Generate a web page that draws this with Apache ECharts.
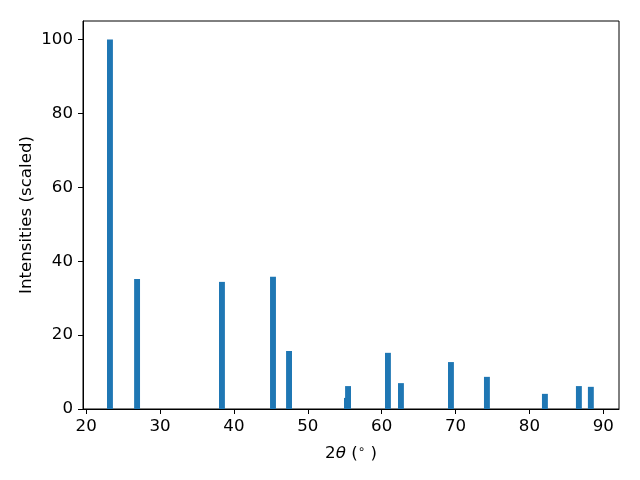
<!DOCTYPE html>
<html><head><meta charset="utf-8">
<script src="https://cdn.jsdelivr.net/npm/echarts@6/dist/echarts.min.js"></script>
<style>html,body{margin:0;padding:0;background:#fff}#c{width:640px;height:480px}</style>
</head><body><div id="c"></div>
<script>
const twoTheta = [23.22, 26.89, 38.38, 45.29, 47.46, 55.30, 55.45, 60.85, 62.61, 69.38, 74.25, 82.10, 86.70, 88.32];
const intensity = [100.0, 35.2, 34.4, 35.8, 15.7, 3.0, 6.2, 15.2, 7.0, 12.7, 8.7, 4.1, 6.2, 6.0];
const xTicks = [20, 30, 40, 50, 60, 70, 80, 90];
const yTicks = [0, 20, 40, 60, 80, 100];
const barWidthDeg = 0.8;

const data = twoTheta.map((x, i) => [x, intensity[i]]);
const chart = echarts.init(document.getElementById('c'), null, {renderer: 'canvas'});
const font = 'DejaVu Sans';
const fs = 16.67;
chart.setOption({
  animation: false,
  grid: {left: 83, right: 21, top: 21, bottom: 71, show: true, borderColor: '#000', borderWidth: 1, backgroundColor: 'transparent'},
  xAxis: {
    type: 'value', min: 19.57, max: 92.13,
    axisLine: {show: true, onZero: false, lineStyle: {color: '#000', width: 1}},
    axisTick: {show: true, length: 5, lineStyle: {color: '#000'}, customValues: xTicks},
    axisLabel: {color: '#000', fontFamily: font, fontSize: fs, margin: 9, customValues: xTicks},
    splitLine: {show: false},
    name: '{n|2}{i|θ}{n| (}{s|∘}{n| )}',
    nameLocation: 'middle', nameGap: 35, nameMoveOverlap: false,
    nameTextStyle: {
      rich: {
        n: {fontFamily: font, fontSize: fs, color: '#000'},
        i: {fontFamily: font, fontSize: fs, fontStyle: 'italic', color: '#000'},
        s: {fontFamily: font, fontSize: 12, color: '#000', verticalAlign: 'top', padding: [0, 0, 7, 0]}
      }
    }
  },
  yAxis: {
    type: 'value', min: 0, max: 105,
    axisLine: {show: true, onZero: false, lineStyle: {color: '#000', width: 1}},
    axisTick: {show: true, length: 5, lineStyle: {color: '#000'}, customValues: yTicks},
    axisLabel: {color: '#000', fontFamily: font, fontSize: fs, margin: 10, customValues: yTicks},
    splitLine: {show: false},
    name: 'Intensities (scaled)', nameLocation: 'middle', nameGap: 48, nameMoveOverlap: false,
    nameTextStyle: {fontFamily: font, fontSize: fs, color: '#000'}
  },
  series: [{
    type: 'custom',
    data: data,
    renderItem: function (params, api) {
      const x = api.value(0), y = api.value(1);
      const p0 = api.coord([x - barWidthDeg / 2, 0]);
      const p1 = api.coord([x + barWidthDeg / 2, y]);
      return {type: 'rect', shape: {x: p0[0], y: p1[1], width: p1[0] - p0[0], height: p0[1] - p1[1]},
        style: {fill: '#1f77b4'}};
    },
    encode: {x: 0, y: 1}
  }]
});
</script></body></html>
